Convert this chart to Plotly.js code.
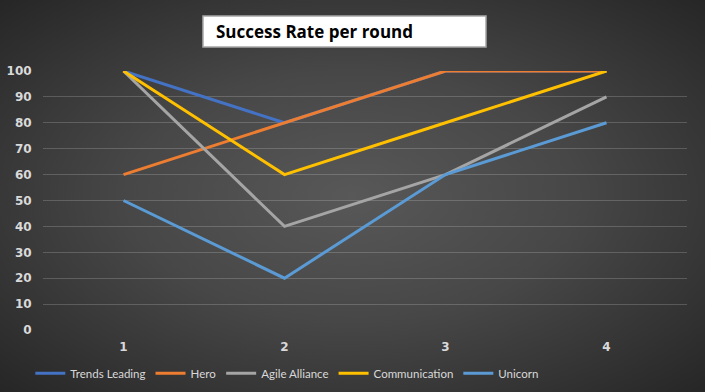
<!DOCTYPE html>
<html>
<head>
<meta charset="utf-8">
<script src="https://cdn.plot.ly/plotly-3.0.1.min.js"></script>
<style>
  html, body { margin: 0; padding: 0; }
  body {
    width: 705px; height: 392px; overflow: hidden;
    background: radial-gradient(ellipse at 50% 50%, #585858 0%, #474747 45%, #262626 100%);
  }
  #chart { width: 705px; height: 392px; }
</style>
</head>
<body>
<div id="chart"></div>
<script>
const rounds = ['1', '2', '3', '4'];
const seriesNames = ['Trends Leading', 'Hero', 'Agile Alliance', 'Communication', 'Unicorn'];
const trendsLeading = [100, 80, 100, 100];
const hero = [60, 80, 100, 100];
const agileAlliance = [100, 40, 60, 90];
const communication = [100, 60, 80, 100];
const unicorn = [50, 20, 60, 80];
const seriesColors = ['#4472C4', '#ED7D31', '#A5A5A5', '#FFC000', '#5B9BD5'];
const yTicks = [0, 10, 20, 30, 40, 50, 60, 70, 80, 90, 100];
const chartTitle = 'Success Rate per round';

const values = [trendsLeading, hero, agileAlliance, communication, unicorn];
const traces = values.map((v, i) => ({
  type: 'scatter', mode: 'lines',
  x: rounds, y: v, name: seriesNames[i],
  line: { color: seriesColors[i], width: 3 },
  hoverinfo: 'skip'
}));

const tickFont = { family: 'DejaVu Sans, sans-serif', size: 12, color: '#d9d9d9', weight: 'bold' };

const layout = {
  width: 705, height: 392,
  paper_bgcolor: 'rgba(0,0,0,0)', plot_bgcolor: 'rgba(0,0,0,0)',
  margin: { l: 43, r: 18, t: 71, b: 62, autoexpand: false },
  font: { family: 'Open Sans, sans-serif', color: '#d9d9d9', size: 11 },
  showlegend: true,
  legend: {
    orientation: 'h', xref: 'container', yref: 'container',
    x: 0.043, xanchor: 'left', y: 0.048, yanchor: 'middle',
    font: { family: 'Lato, sans-serif', size: 11.5, color: '#d9d9d9' },
    itemwidth: 30, bgcolor: 'rgba(0,0,0,0)'
  },
  xaxis: {
    type: 'category', range: [-0.5, 3.5], showgrid: false, zeroline: false,
    showline: false, ticks: 'outside', ticklen: 6, tickcolor: 'rgba(0,0,0,0)',
    tickfont: tickFont, fixedrange: true
  },
  yaxis: {
    range: [0, 100], tickvals: yTicks, showgrid: true,
    gridcolor: 'rgba(255,255,255,0.18)', gridwidth: 1, zeroline: false,
    showline: false, ticks: 'outside', ticklen: 8, tickcolor: 'rgba(0,0,0,0)',
    tickfont: tickFont, fixedrange: true
  },
  shapes: [{
    type: 'rect', xref: 'paper', yref: 'paper',
    x0: 0.2484, x1: 0.6879, y0: 1.0927, y1: 1.2124,
    fillcolor: '#ffffff', line: { color: '#a6a6a6', width: 1.5 }
  }],
  annotations: [{
    xref: 'paper', yref: 'paper', x: 0.265, y: 1.1525,
    xanchor: 'left', yanchor: 'middle',
    text: '<b>' + chartTitle + '</b>', showarrow: false,
    font: { family: 'Open Sans, sans-serif', size: 17, color: '#000000' }
  }]
};

Plotly.newPlot('chart', traces, layout, { displayModeBar: false, staticPlot: true });
</script>
</body>
</html>
